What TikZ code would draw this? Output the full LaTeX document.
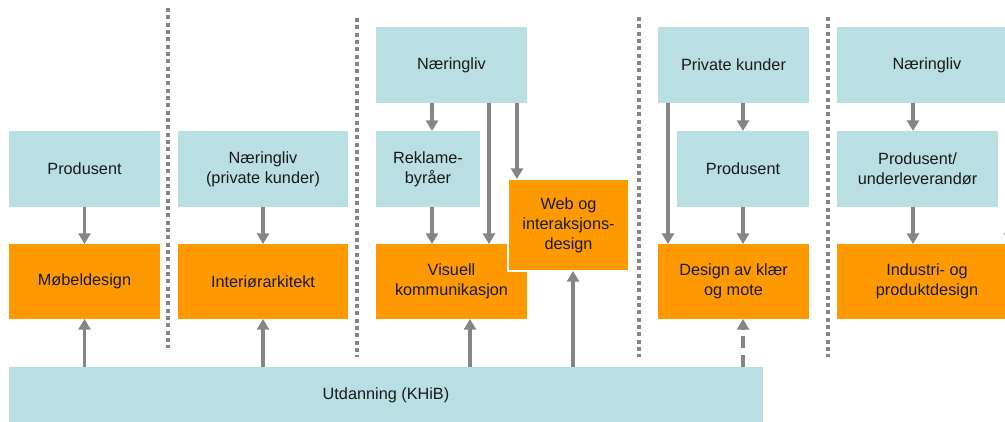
\documentclass[tikz,border=0pt]{standalone}
\usepackage{fontspec}
\setmainfont{Liberation Sans}
\usetikzlibrary{arrows.meta,calc}
\definecolor{boxblue}{HTML}{B9DFE2}
\definecolor{boxorange}{HTML}{FF9900}
\definecolor{linegray}{HTML}{858585}
\definecolor{txt}{HTML}{1A1A1A}
\begin{document}
\begin{tikzpicture}[x=0.75pt,y=-0.75pt,
  every node/.style={font=\fontsize{12.2}{15}\selectfont,text=txt,align=center,inner sep=0pt,outer sep=0pt},
  bx/.style={rectangle,anchor=north west},
  blue/.style={bx,fill=boxblue},
  orange/.style={bx,fill=boxorange},
  link/.style={draw=linegray,line width=2.6pt,-{Triangle[width=9pt,length=8pt]}},
  dlink/.style={link,dash pattern=on 9pt off 5pt},
  sep/.style={draw=linegray,line width=3pt,dash pattern=on 3pt off 2.5pt}]
\useasboundingbox (0,0) rectangle (1005,421);
\clip (0,0) rectangle (1005,421);
\fill[white] (0,0) rectangle (1005,421);

% column separators
\draw[sep] (168,8) -- (168,348);
\draw[sep] (357,18) -- (357,357);
\draw[sep] (639,17) -- (639,357);
\draw[sep] (828,17) -- (828,357);

% column 1
\node[blue,minimum width=151*0.75pt,minimum height=76*0.75pt] (prodA) at (9,131) {Produsent};
\node[orange,minimum width=151*0.75pt,minimum height=75*0.75pt] (mob) at (9,244) {Møbeldesign};
% column 2
\node[blue,minimum width=170*0.75pt,minimum height=76*0.75pt] (npriv) at (178,131) {Næringliv\\(private kunder)};
\node[orange,minimum width=170*0.75pt,minimum height=75*0.75pt] (int) at (178,244) {Interiørarkitekt};
% column 3
\node[blue,minimum width=151*0.75pt,minimum height=76*0.75pt] (n3) at (376,27) {Næringliv};
\node[blue,minimum width=104*0.75pt,minimum height=76*0.75pt] (rek) at (376,131) {Reklame-\\byråer};
\node[orange,minimum width=151*0.75pt,minimum height=75*0.75pt] (vis) at (376,244) {Visuell\\kommunikasjon};
\node[orange,draw=white,line width=1.5pt,minimum width=121*0.75pt,minimum height=92*0.75pt] (web) at (508,179) {Web og\\interaksjons-\\design};
% column 4
\node[blue,minimum width=151*0.75pt,minimum height=76*0.75pt] (pk) at (658,27) {Private kunder};
\node[blue,minimum width=132*0.75pt,minimum height=76*0.75pt] (prodD) at (677,131) {Produsent};
\node[orange,minimum width=151*0.75pt,minimum height=75*0.75pt] (des) at (658,244) {Design av klær\\og mote};
% column 5
\node[blue,minimum width=180*0.75pt,minimum height=76*0.75pt] (n5) at (837,27) {Næringliv};
\node[blue,minimum width=161*0.75pt,minimum height=76*0.75pt] (pu) at (837,131) {Produsent/\\underleverandør};
\node[orange,minimum width=180*0.75pt,minimum height=75*0.75pt] (ind) at (837,244) {Industri- og\\produktdesign};
% education
\node[blue,minimum width=754*0.75pt,minimum height=56*0.75pt] (utd) at (9,367) {Utdanning (KHiB)};

% x positions of the offset connectors
\coordinate (xa) at (432,0);
\coordinate (xb) at (489,0);
\coordinate (xc) at (517,0);
\coordinate (xd) at (470,0);
\coordinate (xe) at (573,0);
\coordinate (xf) at (668,0);
\coordinate (xg) at (743,0);
\coordinate (xh) at (913,0);
\coordinate (xi) at (1010,0);

% connectors
\draw[link] (prodA.south) -- (mob.north);
\draw[link] (utd.north -| mob.south) -- (mob.south);
\draw[link] (npriv.south) -- (int.north);
\draw[link] (utd.north -| int.south) -- (int.south);
\draw[link] (n3.south -| xa) -- (rek.north -| xa);
\draw[link] (rek.south -| xa) -- (vis.north -| xa);
\draw[link] (n3.south -| xb) -- (vis.north -| xb);
\draw[link] (n3.south -| xc) -- (web.north -| xc);
\draw[link] (utd.north -| xd) -- (vis.south -| xd);
\draw[link] (utd.north -| xe) -- (web.south -| xe);
\draw[link] (pk.south -| xg) -- (prodD.north -| xg);
\draw[link] (pk.south -| xf) -- (des.north -| xf);
\draw[link] (prodD.south -| xg) -- (des.north -| xg);
\draw[dlink] (utd.north -| xg) -- (des.south -| xg);
\draw[link] (n5.south -| xh) -- (pu.north -| xh);
\draw[link] (pu.south -| xh) -- (ind.north -| xh);
\draw[link] (n5.south -| xi) -- (ind.north -| xi);
\end{tikzpicture}
\end{document}
